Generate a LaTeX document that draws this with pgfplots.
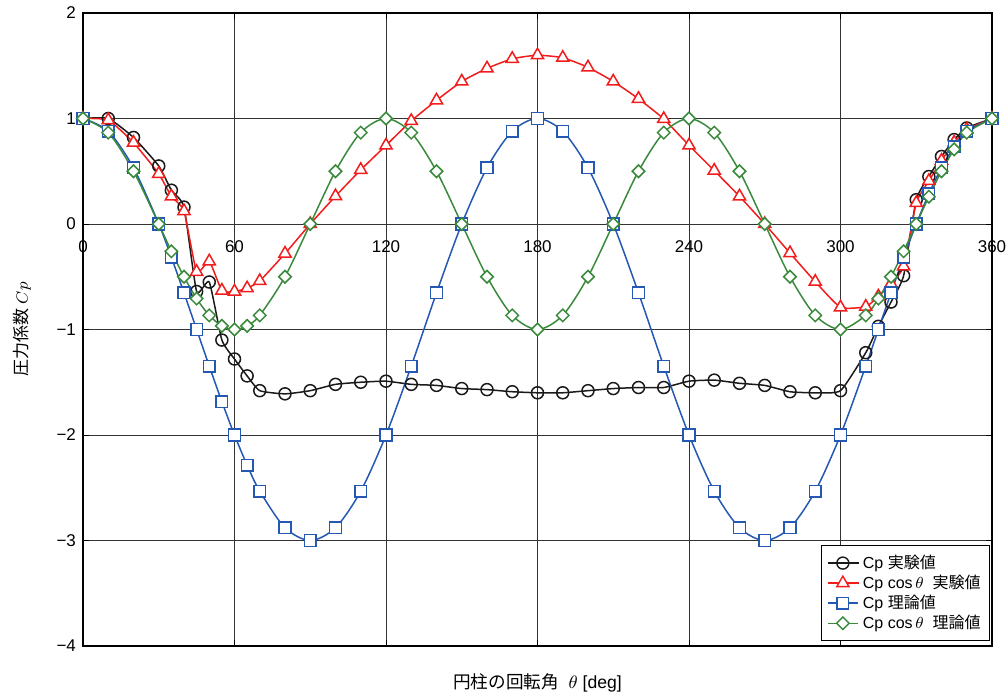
\documentclass[border=0pt]{standalone}
\usepackage{fontspec}
\setmainfont{Liberation Sans}
\newfontfamily\jp{Noto Sans CJK JP}
\usepackage{pgfplots}
\usepackage{pgfplotstable}
\pgfplotsset{compat=1.18}

\definecolor{cpblack}{HTML}{1A1A1A}
\definecolor{cpred}{HTML}{F21C1C}
\definecolor{cpblue}{HTML}{2458B2}
\definecolor{cpgreen}{HTML}{3A8A3C}

% theta, Cp exp, Cp cos exp, Cp theory, Cp cos theory
\pgfplotstableread{
th   cp     cpc     cpt     cpct
0    1.00   1.000   1.000   1.000
10   1.00   0.985   0.879   0.866
20   0.82   0.771   0.532   0.500
30   0.55   0.476   0.000   0.000
35   0.32   0.262  -0.316  -0.259
40   0.16   0.123  -0.653  -0.500
45  -0.64  -0.453  -1.000  -0.707
50  -0.55  -0.354  -1.347  -0.866
55  -1.10  -0.631  -1.684  -0.966
60  -1.28  -0.640  -2.000  -1.000
65  -1.44  -0.609  -2.286  -0.966
70  -1.58  -0.540  -2.532  -0.866
80  -1.61  -0.280  -2.879  -0.500
90  -1.58   0.000  -3.000   0.000
100 -1.52   0.264  -2.879   0.500
110 -1.50   0.513  -2.532   0.866
120 -1.49   0.745  -2.000   1.000
130 -1.52   0.977  -1.347   0.866
140 -1.53   1.172  -0.653   0.500
150 -1.56   1.351   0.000   0.000
160 -1.57   1.475   0.532  -0.500
170 -1.59   1.566   0.879  -0.866
180 -1.60   1.600   1.000  -1.000
190 -1.60   1.576   0.879  -0.866
200 -1.58   1.485   0.532  -0.500
210 -1.56   1.351   0.000   0.000
220 -1.55   1.187  -0.653   0.500
230 -1.55   0.996  -1.347   0.866
240 -1.49   0.745  -2.000   1.000
250 -1.48   0.506  -2.532   0.866
260 -1.51   0.262  -2.879   0.500
270 -1.53   0.000  -3.000   0.000
280 -1.59  -0.276  -2.879  -0.500
290 -1.60  -0.547  -2.532  -0.866
300 -1.58  -0.790  -2.000  -1.000
310 -1.22  -0.784  -1.347  -0.866
315 -0.97  -0.686  -1.000  -0.707
320 -0.74  -0.567  -0.653  -0.500
325 -0.49  -0.401  -0.316  -0.259
330  0.23   0.199   0.000   0.000
335  0.45   0.408   0.286   0.259
340  0.64   0.601   0.532   0.500
345  0.80   0.773   0.732   0.707
350  0.91   0.896   0.879   0.866
360  1.00   1.000   1.000   1.000
}\cpdata

\begin{document}
\begin{tikzpicture}
\begin{axis}[
  scale only axis, width=454.5pt, height=316.5pt,
  xmin=0, xmax=360, ymin=-4, ymax=2,
  xtick={0,60,...,360}, ytick={-4,-3,...,2},
  yticklabels={−4,−3,−2,−1,0,1,2},
  /pgf/number format/assume math mode=true,
  grid=major, grid style={black!80, line width=0.45pt},
  axis line style={black, line width=0.6pt},
  tick style={black}, major tick length=3pt,
  tick label style={font=\fontsize{8.5}{10}\selectfont},
  xticklabel style={yshift=206pt},
  xlabel={{\jp 円柱の回転角}\ \ $\theta$\ [deg]},
  xlabel style={at={(axis description cs:0.5,-0.0585)}, anchor=center,
                font=\fontsize{8.8}{10}\selectfont},
  ylabel={{\jp 圧力係数}\ $Cp$},
  ylabel style={at={(axis description cs:-0.0671,0.5)}, anchor=center,
                font=\fontsize{8.5}{10}\selectfont},
  legend style={at={(axis description cs:0.998,0.008)}, anchor=south east,
                draw=black, line width=0.5pt, font=\fontsize{8}{10}\selectfont,
                cells={anchor=west}, row sep=-2.2pt, inner sep=2.5pt},
  legend image post style={line width=0.7pt},
  legend image code/.code={
    \draw[mark repeat=2, mark phase=2] plot coordinates {(0cm,0cm) (0.27cm,0cm) (0.54cm,0cm)};},
  every axis plot/.append style={line width=0.75pt},
]
\addplot[cpblack, smooth, tension=0.3, mark=o, mark size=3pt,
  mark options={fill=white, solid}] table[x=th, y=cp] {\cpdata};
\addplot[cpred, smooth, tension=0.3, mark=triangle*, mark size=3.5pt,
  mark options={fill=white, solid}] table[x=th, y=cpc] {\cpdata};
\addplot[cpblue, smooth, mark=square*, mark size=2.9pt,
  mark options={fill=white, solid}] table[x=th, y=cpt] {\cpdata};
\addplot[cpgreen, smooth, mark=square*, mark size=2.2pt,
  mark options={fill=white, solid, rotate=45}] table[x=th, y=cpct] {\cpdata};
\legend{Cp {\jp 実験値}, Cp cos\,$\theta$\ \ {\jp 実験値}, Cp {\jp 理論値}, Cp cos\,$\theta$\ \ {\jp 理論値}}
\coordinate (sw) at (rel axis cs:0,0);
\coordinate (ne) at (rel axis cs:1,1);
\end{axis}
\pgfresetboundingbox
\path ([shift={(-41.5pt,-26.5pt)}]sw) rectangle ([shift={(8pt,6.5pt)}]ne);
\end{tikzpicture}
\end{document}
